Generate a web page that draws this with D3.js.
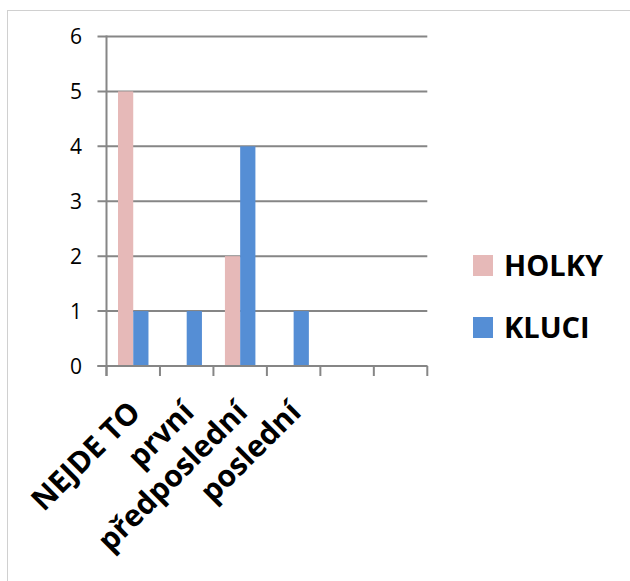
<!DOCTYPE html>
<html>
<head>
    <meta charset="utf-8">
    <script src="https://d3js.org/d3.v7.min.js"></script>
    <style>
        body { margin: 0; padding: 0; background: #fff; overflow: hidden; }
        svg { font-family: 'Open Sans', sans-serif; }
    </style>
</head>
<body>
    <div id="chart"></div>
    <script>
        const categories = ['NEJDE TO', 'první', 'předposlední', 'poslední', '', ''];
        const seriesNames = ['HOLKY', 'KLUCI'];
        const holky = [5, 0, 2, 0, 0, 0];
        const kluci = [1, 1, 4, 1, 0, 0];
        const yTicks = [0, 1, 2, 3, 4, 5, 6];
        const colors = ['#E6B9B8', '#558ED5'];

        const width = 630, height = 581;
        const plotLeft = 106.5, plotRight = 427.3, plotTop = 36.5, plotBottom = 366;

        const svg = d3.select('#chart')
            .append('svg')
            .attr('width', width)
            .attr('height', height);

        // outer chart border
        svg.append('rect')
            .attr('x', 7.5).attr('y', 10.5)
            .attr('width', 640).attr('height', 600)
            .attr('fill', 'none')
            .attr('stroke', '#d0d0d0')
            .attr('stroke-width', 1);

        const x0 = d3.scaleBand()
            .domain(d3.range(categories.length))
            .range([plotLeft, plotRight]);

        const bw = x0.bandwidth();
        const x1 = d3.scaleBand()
            .domain(seriesNames)
            .range([bw * 0.215, bw * 0.785]);

        const y = d3.scaleLinear().domain([0, 6]).range([plotBottom, plotTop]);

        // gridlines
        svg.append('g')
            .selectAll('line')
            .data(yTicks)
            .join('line')
            .attr('x1', plotLeft - 9)
            .attr('x2', plotRight)
            .attr('y1', d => y(d))
            .attr('y2', d => y(d))
            .attr('stroke', '#868686')
            .attr('stroke-width', 2);

        // y labels
        svg.append('g')
            .selectAll('text')
            .data(yTicks)
            .join('text')
            .attr('x', 82)
            .attr('y', d => y(d))
            .attr('dy', '0.36em')
            .attr('text-anchor', 'end')
            .attr('font-size', 21)
            .attr('fill', '#000')
            .text(d => d);

        // bars
        const data = categories.map((c, i) => ({ i, values: [holky[i], kluci[i]] }));
        svg.append('g')
            .selectAll('g')
            .data(data)
            .join('g')
            .attr('transform', d => `translate(${x0(d.i)},0)`)
            .selectAll('rect')
            .data(d => d.values.map((v, k) => ({ name: seriesNames[k], v, k })))
            .join('rect')
            .attr('x', d => x1(d.name))
            .attr('width', x1.bandwidth())
            .attr('y', d => y(d.v))
            .attr('height', d => plotBottom - y(d.v))
            .attr('fill', d => colors[d.k]);

        // axes lines
        svg.append('line')
            .attr('x1', plotLeft).attr('x2', plotLeft)
            .attr('y1', plotTop - 1).attr('y2', plotBottom + 10)
            .attr('stroke', '#868686').attr('stroke-width', 2);
        svg.append('line')
            .attr('x1', plotLeft - 9).attr('x2', plotRight)
            .attr('y1', plotBottom).attr('y2', plotBottom)
            .attr('stroke', '#868686').attr('stroke-width', 2);

        // x ticks at band edges
        const edges = d3.range(categories.length + 1).map(i => plotLeft + i * bw);
        svg.append('g')
            .selectAll('line')
            .data(edges)
            .join('line')
            .attr('x1', d => d).attr('x2', d => d)
            .attr('y1', plotBottom).attr('y2', plotBottom + 10)
            .attr('stroke', '#868686').attr('stroke-width', 2);

        // x labels
        svg.append('g')
            .selectAll('text')
            .data(data)
            .join('text')
            .attr('transform', d => `translate(${x0(d.i) + bw / 2 + 9},414) rotate(-45)`)
            .attr('text-anchor', 'end')
            .attr('font-size', 30)
            .attr('font-weight', 'bold')
            .attr('fill', '#000')
            .text(d => categories[d.i]);

        // legend
        const legend = svg.append('g')
            .selectAll('g')
            .data(seriesNames)
            .join('g')
            .attr('transform', (d, i) => `translate(473,${255 + i * 62})`);
        legend.append('rect')
            .attr('width', 20).attr('height', 21)
            .attr('fill', (d, i) => colors[i]);
        legend.append('text')
            .attr('x', 31)
            .attr('y', 21)
            .attr('font-size', 29)
            .attr('font-weight', 'bold')
            .attr('fill', '#000')
            .text(d => d);
    </script>
</body>
</html>
